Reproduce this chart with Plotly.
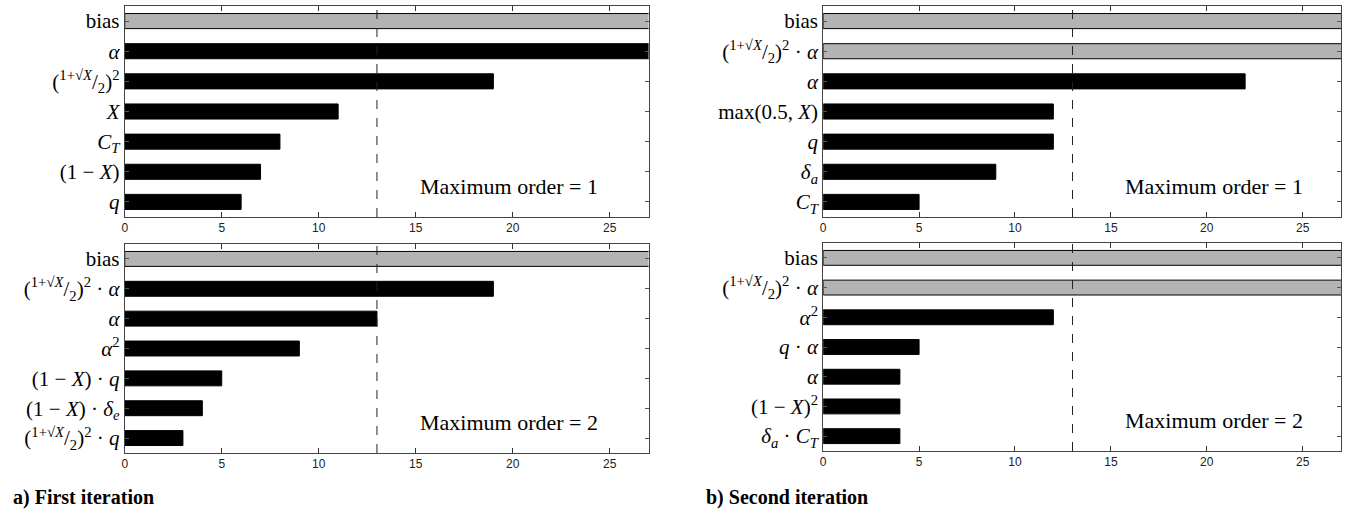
import plotly.graph_objects as go

# ---- data -------------------------------------------------------------
FRAC = "(<sup>1+√<i>X</i></sup>/<sub>2</sub>)<sup>2</sup>"

labels_a1 = ["bias", "<i>α</i>", FRAC, "<i>X</i>", "<i>C</i><sub><i>T</i></sub>",
             "(1 − <i>X</i>)", "<i>q</i>"]
values_a1 = [40, 28, 19, 11, 8, 7, 6]
kind_a1 = ["fixed", "term", "term", "term", "term", "term", "term"]

labels_a2 = ["bias", FRAC + " · <i>α</i>", "<i>α</i>", "<i>α</i><sup>2</sup>",
             "(1 − <i>X</i>) · <i>q</i>", "(1 − <i>X</i>) · <i>δ</i><sub><i>e</i></sub>",
             FRAC + " · <i>q</i>"]
values_a2 = [40, 19, 13, 9, 5, 4, 3]
kind_a2 = ["fixed", "term", "term", "term", "term", "term", "term"]

labels_b1 = ["bias", FRAC + " · <i>α</i>", "<i>α</i>", "max(0.5, <i>X</i>)", "<i>q</i>",
             "<i>δ</i><sub><i>a</i></sub>", "<i>C</i><sub><i>T</i></sub>"]
values_b1 = [40, 40, 22, 12, 12, 9, 5]
kind_b1 = ["fixed", "fixed", "term", "term", "term", "term", "term"]

labels_b2 = ["bias", FRAC + " · <i>α</i>", "<i>α</i><sup>2</sup>", "<i>q</i> · <i>α</i>",
             "<i>α</i>", "(1 − <i>X</i>)<sup>2</sup>",
             "<i>δ</i><sub><i>a</i></sub> · <i>C</i><sub><i>T</i></sub>"]
values_b2 = [40, 40, 12, 5, 4, 4, 4]
kind_b2 = ["fixed", "fixed", "term", "term", "term", "term", "term"]

threshold = 13
x_max = 27
x_ticks = [0, 5, 10, 15, 20, 25]
order_text = ["Maximum order = 1", "Maximum order = 2",
              "Maximum order = 1", "Maximum order = 2"]
captions = ["a) First iteration", "b) Second iteration"]

# ---- layout geometry --------------------------------------------------
W, H = 1358, 510
panels = [
    # (labels, values, kinds, x-domain px, y-domain px (top, bottom), note x)
    (labels_a1, values_a1, kind_a1, (122, 647), (6, 217), 0.907),
    (labels_a2, values_a2, kind_a2, (122, 647), (244, 453), 0.907),
    (labels_b1, values_b1, kind_b1, (822, 1341), (6, 217), 0.93),
    (labels_b2, values_b2, kind_b2, (822, 1341), (243, 451), 0.93),
]

SERIF = "Liberation Serif, Times New Roman, serif"
SANS = "Liberation Sans, Arial, sans-serif"
FILL = {"fixed": "#b3b3b3", "term": "#000000"}

fig = go.Figure()
layout = dict(
    width=W, height=H,
    margin=dict(l=0, r=0, t=0, b=0),
    paper_bgcolor="white", plot_bgcolor="white",
    showlegend=False, bargap=0.5,
)
shapes, annotations = [], []

for i, (labs, vals, kinds, (x0, x1), (yt, yb), note_x) in enumerate(panels):
    n = i + 1
    xa = "xaxis" if n == 1 else f"xaxis{n}"
    ya = "yaxis" if n == 1 else f"yaxis{n}"
    xr = "x" if n == 1 else f"x{n}"
    yr = "y" if n == 1 else f"y{n}"

    fig.add_trace(go.Bar(
        x=vals, y=labs, orientation="h",
        marker=dict(color=[FILL[k] for k in kinds],
                    line=dict(color="#000000", width=1)),
        xaxis=xr, yaxis=yr, width=0.5, hoverinfo="skip",
    ))

    layout[xa] = dict(
        domain=[x0 / W, x1 / W], anchor=yr, range=[0, x_max],
        tickvals=x_ticks, ticks="inside", ticklen=5, tickcolor="#333",
        showline=True, linecolor="#444", linewidth=1, mirror="ticks",
        showgrid=False, zeroline=False,
        tickfont=dict(family=SANS, size=12, color="#222"),
    )
    layout[ya] = dict(
        domain=[1 - yb / H, 1 - yt / H], anchor=xr,
        type="category", categoryorder="array", categoryarray=labs,
        range=[len(labs) - 0.5, -0.5],
        ticks="inside", ticklen=4, tickcolor="#555",
        showline=True, linecolor="#444", linewidth=1, mirror="ticks",
        showgrid=False, zeroline=False,
        tickfont=dict(family=SERIF, size=21, color="#000"),
    )

    # reference threshold
    shapes.append(dict(
        type="line", xref=xr, yref=f"{yr} domain",
        x0=threshold, x1=threshold, y0=0, y1=1,
        line=dict(color="#222", width=1, dash="dash"), layer="above",
    ))

    annotations.append(dict(
        text=order_text[i], xref=f"{xr} domain", yref=f"{yr} domain",
        x=note_x, y=0.145, xanchor="right", yanchor="middle", showarrow=False,
        font=dict(family=SERIF, size=22, color="#000"),
    ))

for cap, xp in zip(captions, [8, 703]):
    annotations.append(dict(
        text=f"<b>{cap}</b>", xref="paper", yref="paper",
        x=xp / W, y=1 - 497 / H, xanchor="left", yanchor="middle",
        showarrow=False, font=dict(family=SERIF, size=20, color="#000"),
    ))

layout["shapes"] = shapes
layout["annotations"] = annotations
fig.update_layout(**layout)
fig.write_html("out.html")
